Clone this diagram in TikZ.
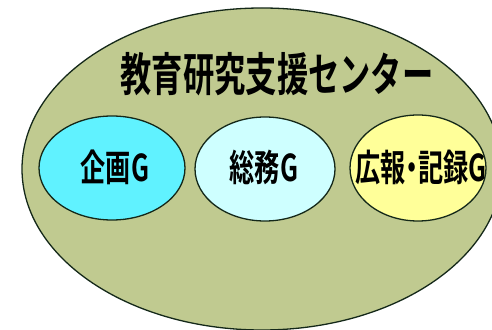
\documentclass[tikz,border=0pt]{standalone}
\usepackage{fontspec}
\newfontfamily\jp{Noto Sans CJK JP Bold}
\definecolor{outer}{RGB}{192,202,144}
\definecolor{kikaku}{RGB}{96,242,255}
\definecolor{soumu}{RGB}{206,255,255}
\definecolor{kouhou}{RGB}{255,255,153}
\definecolor{edge}{RGB}{20,40,25}
\begin{document}
\begin{tikzpicture}[x=1pt,y=1pt,
  blob/.style={draw=edge,line width=1.3pt},
  grp/.style={font=\jp\fontsize{37}{37}\selectfont,xscale=0.68,text=black,inner sep=0pt}]
\useasboundingbox (0,0) rectangle (492,329);
\clip (0,0) rectangle (492,329);
\fill[white] (0,0) rectangle (492,329);
\draw[blob,fill=outer] (262,160) ellipse [x radius=240,y radius=161];
\node[font=\jp\fontsize{46}{46}\selectfont,xscale=0.68,inner sep=0pt] (title) at (277,255) {教育研究支援センター};
\draw[blob,fill=kikaku] (112,161) ellipse [x radius=73,y radius=52];
\draw[blob,fill=soumu] (265,160) ellipse [x radius=70,y radius=52];
\draw[blob,fill=kouhou] (418,161) ellipse [x radius=68,y radius=53];
\node[grp] (a) at (115,162) {企画G};
\node[grp] (b) at (264,162) {総務G};
\node[grp] (c) at (421,162) {広報\kern-0.25em・\kern-0.25em記録G};
\end{tikzpicture}
\end{document}
